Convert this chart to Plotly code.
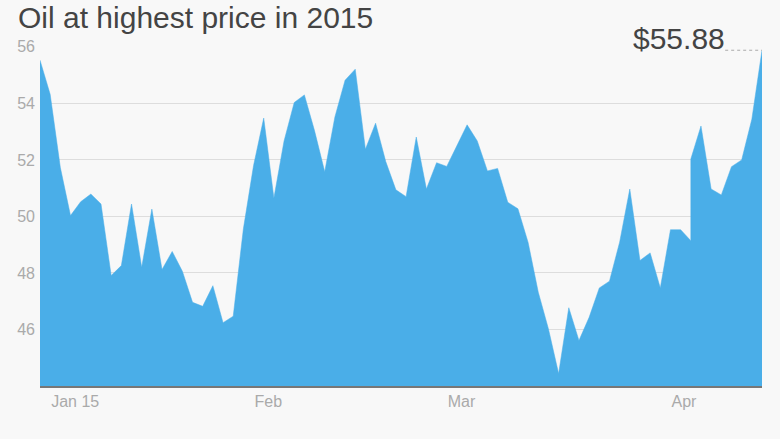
import plotly.graph_objects as go

title_text = "Oil at highest price in 2015"

dates = [
    "2014-12-31",
    "2015-01-02", "2015-01-05", "2015-01-06", "2015-01-07", "2015-01-08", "2015-01-09",
    "2015-01-12", "2015-01-13", "2015-01-14", "2015-01-15", "2015-01-16", "2015-01-20",
    "2015-01-21", "2015-01-22", "2015-01-23", "2015-01-26", "2015-01-27", "2015-01-28",
    "2015-01-29", "2015-01-30",
    "2015-02-02", "2015-02-03", "2015-02-04", "2015-02-05", "2015-02-06", "2015-02-09",
    "2015-02-10", "2015-02-11", "2015-02-12", "2015-02-13", "2015-02-17", "2015-02-18",
    "2015-02-19", "2015-02-20", "2015-02-23", "2015-02-24", "2015-02-25", "2015-02-26",
    "2015-02-27",
    "2015-03-02", "2015-03-03", "2015-03-04", "2015-03-05", "2015-03-06", "2015-03-09",
    "2015-03-10", "2015-03-11", "2015-03-12", "2015-03-13", "2015-03-16", "2015-03-17",
    "2015-03-18", "2015-03-19", "2015-03-20", "2015-03-23", "2015-03-24", "2015-03-25",
    "2015-03-26", "2015-03-27", "2015-03-30", "2015-03-31",
    "2015-04-01", "2015-04-02", "2015-04-06", "2015-04-06", "2015-04-07", "2015-04-08",
    "2015-04-09", "2015-04-10", "2015-04-13", "2015-04-14", "2015-04-15",
]

prices = [
    55.53,
    54.32, 51.73, 50.03, 50.52, 50.79, 50.44,
    47.91, 48.26, 50.44, 48.20, 50.26, 48.12,
    48.76, 48.06, 46.96, 46.82, 47.55, 46.24,
    46.47, 49.56,
    51.80, 53.48, 50.65, 52.67, 54.03, 54.30,
    53.03, 51.58, 53.52, 54.82, 55.21, 52.38,
    53.30, 51.94, 50.94, 50.70, 52.81, 50.97,
    51.90,
    51.77, 52.52, 53.24, 52.67, 51.61, 51.70,
    50.50, 50.27, 49.08, 47.32, 46.02, 44.44,
    46.77, 45.61, 46.43, 47.47, 47.71, 49.09,
    50.97, 48.44, 48.71, 47.47,
    49.53, 49.53, 49.14, 52.03, 53.20, 50.97,
    50.76, 51.76, 52.00, 53.44, 55.88,
]

month_ticks = ["2015-01-02", "2015-02-02", "2015-03-02", "2015-04-01"]
month_labels = ["Jan 15", "Feb", "Mar", "Apr"]

y_ticks = [46, 48, 50, 52, 54, 56]

FILL = "#4aaee8"
BG = "#f8f8f8"
FONT = "Liberation Sans, Arial, sans-serif"

n_cats = len(dict.fromkeys(dates))

fig = go.Figure()
fig.add_trace(go.Scatter(
    x=dates, y=prices, mode="lines", fill="tozeroy",
    fillcolor=FILL, line=dict(color=FILL, width=0.5),
    hoverinfo="skip", showlegend=False,
))

last = prices[-1]
fig.add_shape(type="line", xref="paper", yref="y", x0=0.949, x1=1.0, y0=last, y1=last,
              line=dict(color="#aaaaaa", width=1, dash="dot"))
fig.add_annotation(xref="paper", yref="y", x=0.951, y=last, xanchor="right", yanchor="middle",
                   yshift=12, text=f"${last:.2f}", showarrow=False,
                   font=dict(family=FONT, size=30, color="#444444"))

fig.update_layout(
    width=780, height=439,
    paper_bgcolor=BG, plot_bgcolor=BG,
    margin=dict(l=40, r=18, t=46, b=53),
    font=dict(family=FONT),
    title=dict(text=title_text, x=18 / 780, xanchor="left", xref="container",
               y=1 - 17.5 / 439, yanchor="middle", yref="container",
               font=dict(family=FONT, size=30, color="#444444")),
    xaxis=dict(type="category", range=[0, n_cats - 1], tickvals=month_ticks, ticktext=month_labels,
               showgrid=False, zeroline=False, showline=True, linecolor="#777777", linewidth=2,
               ticks="", ticklabelposition="outside right",
               tickfont=dict(family=FONT, size=16, color="#aaaaaa")),
    yaxis=dict(range=[44, 56.03], tickvals=y_ticks, showgrid=True, gridcolor="#dddddd", gridwidth=1,
               zeroline=False, showline=False, ticks="", ticklabelstandoff=4,
               tickfont=dict(family=FONT, size=16, color="#aaaaaa")),
)

fig.write_html(
    "out.html",
    config={"displayModeBar": False},
    post_script="document.body.style.margin='0';document.body.style.background='#f8f8f8';",
)
